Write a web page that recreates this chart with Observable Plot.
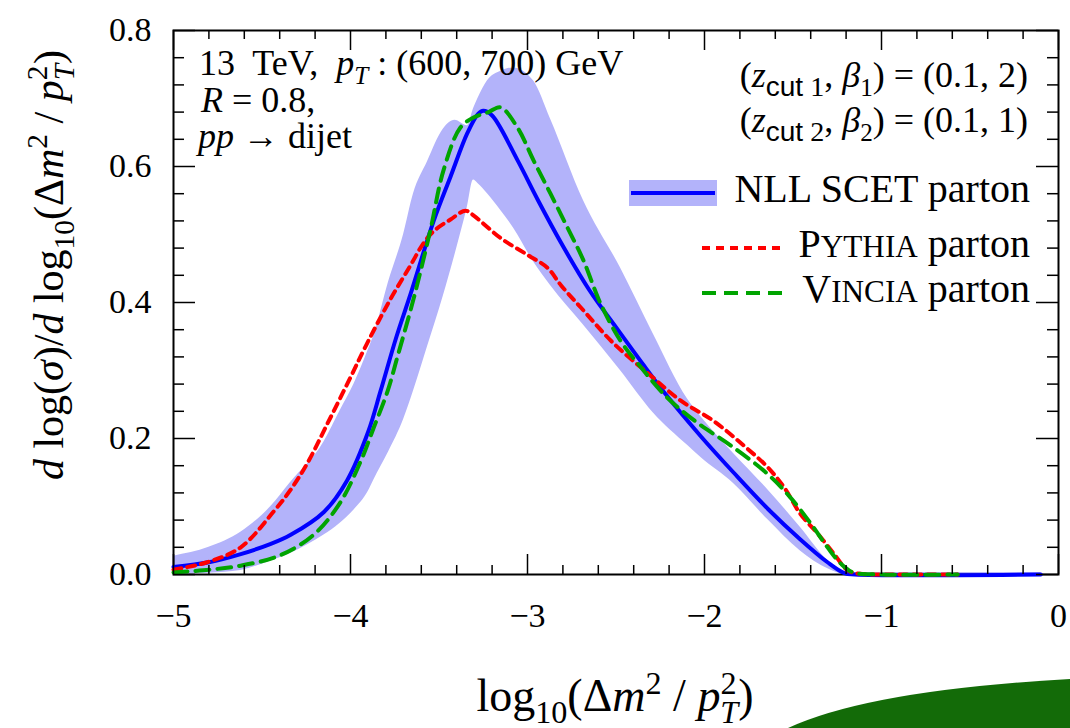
<!DOCTYPE html>
<html>
<head>
<meta charset="utf-8">
<script src="https://cdn.jsdelivr.net/npm/d3@7"></script>
<script src="https://cdn.jsdelivr.net/npm/@observablehq/plot@0.6"></script>
<style>
html, body { margin: 0; padding: 0; background: #fff; }
#chart { position: relative; width: 1070px; height: 728px; overflow: hidden; }
</style>
</head>
<body>
<div id="chart"></div>
<script>
// ---- Data ----
// NLL SCET parton (central curve)
const nllX = [-5.0, -4.8, -4.62, -4.45, -4.34, -4.15, -4.02, -3.90, -3.83, -3.74, -3.66, -3.53, -3.435, -3.34, -3.28, -3.25, -3.2, -3.056, -2.94, -2.80, -2.65, -2.49, -2.35, -2.21, -2.02, -1.836, -1.64, -1.46, -1.305, -1.21, -1.15, -0.1];
const nllY = [0.011, 0.018, 0.03, 0.045, 0.058, 0.092, 0.138, 0.21, 0.27, 0.35, 0.413, 0.52, 0.585, 0.649, 0.677, 0.682, 0.675, 0.609, 0.55, 0.483, 0.418, 0.36, 0.31, 0.262, 0.203, 0.15, 0.096, 0.052, 0.018, 0.002, 0.0, 0.0];

// NLL SCET uncertainty band
const bandX  = [-5.0, -4.8, -4.62, -4.45, -4.34, -4.15, -4.06, -3.98, -3.90, -3.87, -3.785, -3.70, -3.644, -3.565, -3.475, -3.41, -3.34, -3.305, -3.28, -3.226, -3.15, -3.08, -2.966, -2.87, -2.684, -2.475, -2.29, -2.096, -2.02, -1.836, -1.64, -1.46, -1.30, -1.2, -0.1];
const bandLo = [0.0, 0.002, 0.006, 0.02, 0.031, 0.058, 0.075, 0.095, 0.122, 0.138, 0.18, 0.228, 0.27, 0.335, 0.41, 0.47, 0.54, 0.58, 0.575, 0.56, 0.535, 0.51, 0.46, 0.425, 0.367, 0.30, 0.238, 0.19, 0.172, 0.134, 0.08, 0.035, 0.008, 0.0, 0.0];
const bandHi = [0.027, 0.04, 0.062, 0.10, 0.135, 0.195, 0.24, 0.28, 0.33, 0.35, 0.43, 0.50, 0.56, 0.607, 0.655, 0.668, 0.66, 0.685, 0.70, 0.726, 0.740, 0.745, 0.726, 0.67, 0.55, 0.451, 0.354, 0.258, 0.232, 0.178, 0.124, 0.07, 0.02, 0.003, 0.003];

// Pythia parton
const pyX = [-5.0, -4.81, -4.62, -4.43, -4.34, -4.245, -4.13, -4.0, -3.906, -3.774, -3.66, -3.588, -3.53, -3.435, -3.35, -3.30, -3.153, -3.0, -2.887, -2.81, -2.70, -2.514, -2.32, -2.136, -1.95, -1.78, -1.644, -1.55, -1.458, -1.36, -1.27, -1.19, -1.12, -1.0, -0.57];
const pyY = [0.007, 0.018, 0.04, 0.094, 0.124, 0.163, 0.222, 0.29, 0.34, 0.405, 0.455, 0.487, 0.505, 0.522, 0.535, 0.527, 0.495, 0.47, 0.451, 0.425, 0.393, 0.34, 0.296, 0.256, 0.226, 0.19, 0.158, 0.128, 0.089, 0.06, 0.031, 0.006, 0.001, 0.0, 0.0];

// Vincia parton
const viX = [-5.0, -4.8, -4.62, -4.40, -4.21, -4.06, -3.94, -3.87, -3.79, -3.735, -3.644, -3.55, -3.475, -3.38, -3.305, -3.22, -3.153, -3.056, -2.966, -2.87, -2.774, -2.684, -2.59, -2.475, -2.36, -2.21, -2.04, -1.853, -1.644, -1.514, -1.40, -1.305, -1.23, -1.16, -1.0, -0.57];
const viY = [0.003, 0.007, 0.013, 0.028, 0.058, 0.105, 0.168, 0.215, 0.27, 0.32, 0.405, 0.505, 0.594, 0.657, 0.672, 0.68, 0.687, 0.657, 0.609, 0.56, 0.51, 0.462, 0.40, 0.344, 0.305, 0.26, 0.223, 0.19, 0.148, 0.113, 0.075, 0.04, 0.016, 0.003, 0.0, 0.0];

// Tick values
const xMajor = [-5, -4, -3, -2, -1, 0];
const yMajor = [0, 0.2, 0.4, 0.6, 0.8];
const xMinor = d3.range(-5, 0.0001, 0.2).map(v => +v.toFixed(2)).filter(v => Math.abs(v - Math.round(v)) > 1e-6);
const yMinor = d3.range(0, 0.8001, 0.04).map(v => +v.toFixed(2)).filter(v => Math.abs(v / 0.2 - Math.round(v / 0.2)) > 1e-6);

// ---- Build rows for the library ----
const nllRows = nllX.map((x, i) => ({x, y: nllY[i]}));
const bandRows = bandX.map((x, i) => ({x, lo: bandLo[i], hi: bandHi[i]}));
const pyRows = pyX.map((x, i) => ({x, y: pyY[i]}));
const viRows = viX.map((x, i) => ({x, y: viY[i]}));

const W = 1070, H = 728, mL = 173, mR = 12, mT = 30, mB = 154;
const pw = W - mL - mR, ph = H - mT - mB;
const serif = "'Liberation Serif', 'Times New Roman', serif";
const sans = "'Liberation Sans', Arial, sans-serif";
const blue = "#0000ff", red = "#ff0000", green = "#00a400", bandColor = "#b3b3fa";
const fmtX = d => d < 0 ? "\u2212" + (-d) : String(d);

const plot = Plot.plot({
  width: W, height: H,
  marginLeft: mL, marginRight: mR, marginTop: mT, marginBottom: mB,
  style: {fontFamily: serif, background: "white", color: "black", overflow: "visible"},
  x: {domain: [-5, 0], label: null},
  y: {domain: [0, 0.8], label: null},
  marks: [
    Plot.areaY(bandRows, {x: "x", y1: "lo", y2: "hi", fill: bandColor, curve: "monotone-x"}),
    Plot.frame({stroke: "black", strokeWidth: 2}),
    Plot.line(nllRows, {x: "x", y: "y", stroke: blue, strokeWidth: 4, curve: "catmull-rom"}),
    Plot.line(pyRows, {x: "x", y: "y", stroke: red, strokeWidth: 4, strokeDasharray: "8,6", curve: "catmull-rom"}),
    Plot.line(viRows, {x: "x", y: "y", stroke: green, strokeWidth: 4, strokeDasharray: "14,8", curve: "catmull-rom"}),
    Plot.tickX(xMajor, {x: d => d, insetTop: ph - 20, strokeWidth: 1.5}),
    Plot.tickX(xMajor, {x: d => d, insetBottom: ph - 20, strokeWidth: 1.5}),
    Plot.tickX(xMinor, {x: d => d, insetTop: ph - 9, strokeWidth: 1.5}),
    Plot.tickX(xMinor, {x: d => d, insetBottom: ph - 9, strokeWidth: 1.5}),
    Plot.tickY(yMajor, {y: d => d, insetRight: pw - 22, strokeWidth: 1.5}),
    Plot.tickY(yMajor, {y: d => d, insetLeft: pw - 22, strokeWidth: 1.5}),
    Plot.tickY(yMinor, {y: d => d, insetRight: pw - 11, strokeWidth: 1.5}),
    Plot.tickY(yMinor, {y: d => d, insetLeft: pw - 11, strokeWidth: 1.5}),
    Plot.axisX({ticks: xMajor, tickSize: 0, tickPadding: 28, tickFormat: fmtX, fontSize: 34, label: null}),
    Plot.axisY({ticks: yMajor, tickSize: 0, tickPadding: 22, tickFormat: d => d.toFixed(1), fontSize: 34, label: null})
  ]
});
document.getElementById("chart").appendChild(plot);

// ---- Rich text annotations ----
const svg = d3.select(plot);
function rich(x, y, segs, {size, anchor = "start", rotate = 0}) {
  const t = svg.append("text")
    .attr("x", x).attr("y", y)
    .attr("font-size", size).attr("font-family", serif)
    .attr("text-anchor", anchor).attr("fill", "black")
    .attr("style", "white-space:pre");
  if (rotate) t.attr("transform", `rotate(${rotate},${x},${y})`);
  let cur = 0;
  for (const s of segs) {
    const sp = t.append("tspan").text(s.t);
    let off = 0, fs = size;
    if (s.sup) { off = -0.38 * size; fs = 0.7 * size; }
    if (s.sub) { off = 0.26 * size; fs = (s.ss || 0.7) * size; }
    if (s.fs) fs = s.fs * size;
    sp.attr("font-size", fs);
    if (off !== cur) { sp.attr("dy", off - cur); cur = off; }
    if (s.i) sp.attr("font-style", "italic");
    if (s.dx) sp.attr("dx", s.dx * size);
    if (s.family) sp.attr("font-family", s.family);
  }
  return t;
}

// Axis titles
rich(63, 265, [
  {t: "d", i: 1}, {t: " log("}, {t: "\u03c3", i: 1}, {t: ")/"}, {t: "d", i: 1}, {t: " log"}, {t: "10", sub: 1},
  {t: "(\u0394"}, {t: "m", i: 1}, {t: "2", sup: 1}, {t: " / "}, {t: "p", i: 1}, {t: "2", sup: 1},
  {t: "T", sub: 1, i: 1, dx: -0.35}, {t: ")"}
], {size: 42, anchor: "middle", rotate: -90});

rich(615, 711, [
  {t: "log"}, {t: "10", sub: 1}, {t: "(\u0394"}, {t: "m", i: 1}, {t: "2", sup: 1}, {t: " / "},
  {t: "p", i: 1}, {t: "2", sup: 1}, {t: "T", sub: 1, i: 1, dx: -0.35}, {t: ")"}
], {size: 46, anchor: "middle"});

// Top-left annotation
rich(199, 75, [{t: "13  TeV,  "}, {t: "p", i: 1}, {t: "T", sub: 1, i: 1}, {t: " : (600, 700) GeV"}], {size: 36});
rich(201, 112, [{t: "R", i: 1}, {t: " = 0.8,"}], {size: 36});
rich(198, 148, [{t: "pp", i: 1}, {t: " \u2192 dijet"}], {size: 36});

// Top-right annotation
rich(1028, 87, [{t: "("}, {t: "z", i: 1}, {t: "cut", sub: 1, ss: 0.78, family: sans}, {t: " 1", sub: 1, ss: 0.78}, {t: ", "},
  {t: "\u03b2", i: 1}, {t: "1", sub: 1}, {t: ") = (0.1, 2)"}], {size: 36, anchor: "end"});
rich(1028, 132, [{t: "("}, {t: "z", i: 1}, {t: "cut", sub: 1, ss: 0.78, family: sans}, {t: " 2", sub: 1, ss: 0.78}, {t: ", "},
  {t: "\u03b2", i: 1}, {t: "2", sub: 1}, {t: ") = (0.1, 1)"}], {size: 36, anchor: "end"});

// Legend
svg.append("rect").attr("x", 629).attr("y", 180).attr("width", 88).attr("height", 26).attr("fill", bandColor);
svg.append("line").attr("x1", 631).attr("x2", 715).attr("y1", 193).attr("y2", 193).attr("stroke", blue).attr("stroke-width", 4);
rich(1030, 202, [{t: "NLL SCET parton"}], {size: 40, anchor: "end"});
svg.append("line").attr("x1", 702).attr("x2", 784).attr("y1", 248).attr("y2", 248).attr("stroke", red).attr("stroke-width", 4).attr("stroke-dasharray", "8,6");
rich(1030, 257, [{t: "P"}, {t: "YTHIA", fs: 0.78}, {t: " parton"}], {size: 40, anchor: "end"});
svg.append("line").attr("x1", 702).attr("x2", 788).attr("y1", 293).attr("y2", 293).attr("stroke", green).attr("stroke-width", 4).attr("stroke-dasharray", "14,8");
rich(1030, 302, [{t: "V"}, {t: "INCIA", fs: 0.78}, {t: " parton"}], {size: 40, anchor: "end"});

// Decorative green shape in the bottom-right corner of the slide
svg.append("path").attr("d", "M788,728 Q870,690 1070,679 L1070,728 Z").attr("fill", "#136b08");
</script>
</body>
</html>
